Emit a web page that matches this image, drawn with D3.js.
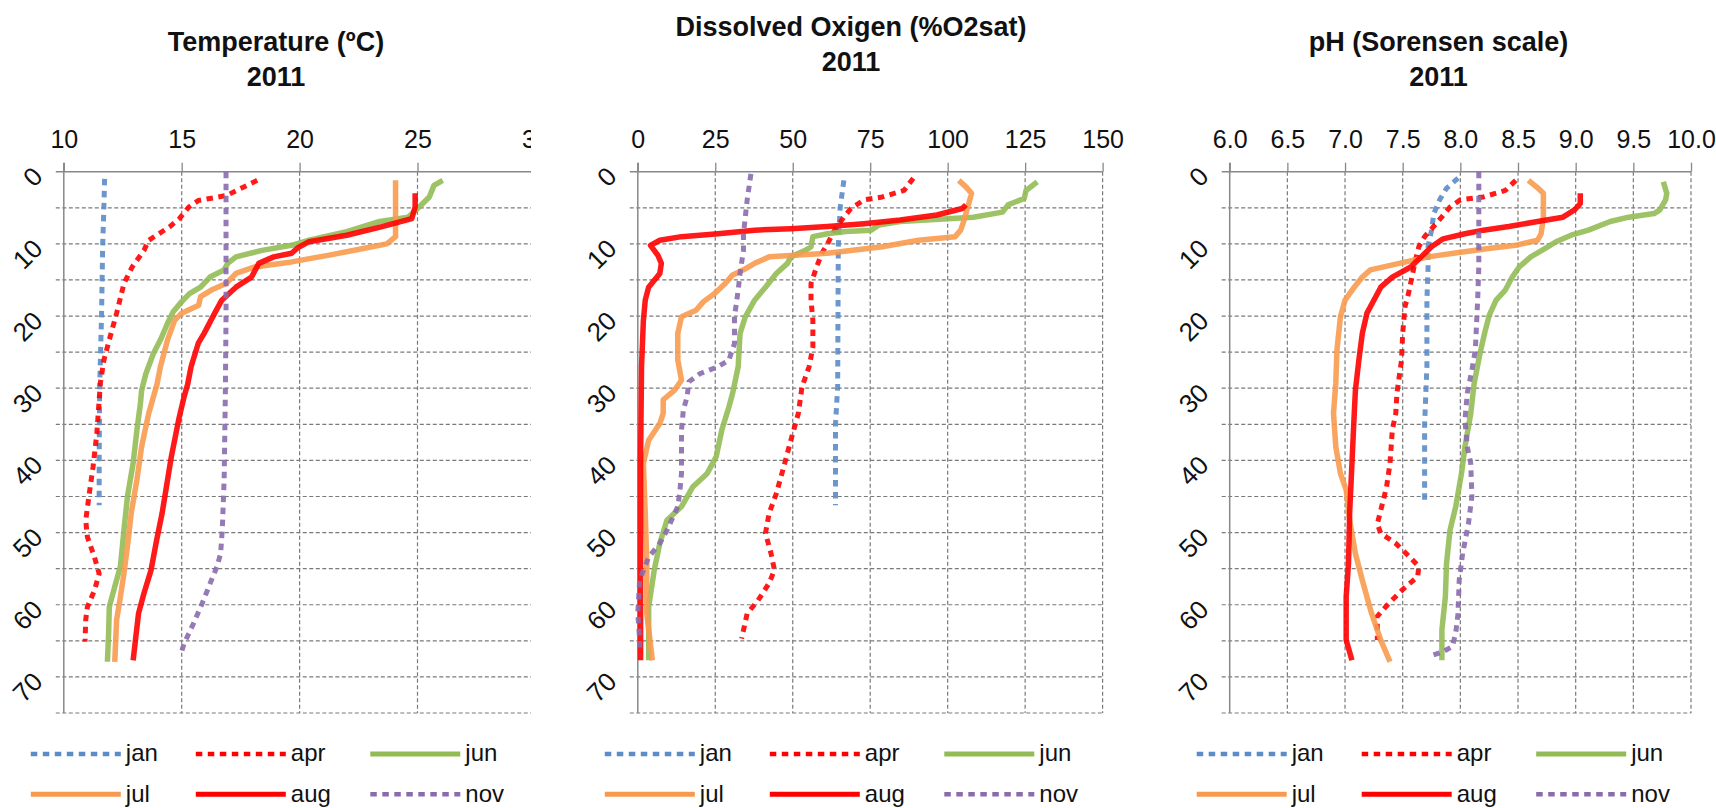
<!DOCTYPE html>
<html>
<head>
<meta charset="utf-8">
<script src="https://cdn.jsdelivr.net/npm/d3@7/dist/d3.min.js"></script>
<style>
  body { margin: 0; background: #fff; }
  svg text { font-family: "Liberation Sans", Arial, sans-serif; fill: #111; }
</style>
</head>
<body>
<svg id="chart" width="1716" height="808"></svg>
<script>
// series names, in drawing / legend order
const months = ["jan", "apr", "jun", "jul", "aug", "nov"];

// depth axis (m)
const depthTicks = [0, 10, 20, 30, 40, 50, 60, 70];
const depthGrid = [0, 5, 10, 15, 20, 25, 30, 35, 40, 45, 50, 55, 60, 65, 70, 75];

// top axis tick labels for each panel
const tempTicks = [10, 15, 20, 25, 30];
const oxyTicks = [0, 25, 50, 75, 100, 125, 150];
const phTicks = [6.0, 6.5, 7.0, 7.5, 8.0, 8.5, 9.0, 9.5, 10.0];

// Temperature (ºC) profiles: [value, depth]
const tempJan = [[11.73,1],[11.7,5],[11.65,10],[11.6,20],[11.52,30],[11.5,40],[11.5,46.2]];
const tempApr = [[18.2,1.2],[16.9,3.3],[15.7,4],[15.3,4.9],[14.9,6.5],[14.5,7.6],[13.6,9.5],[13.4,10.9],[12.9,13.2],[12.55,15.5],[12.24,19.6],[11.93,23.3],[11.7,26.1],[11.55,29.3],[11.4,36.3],[11.24,40.9],[11.08,44.6],[10.93,48.3],[11.0,50.6],[11.3,53.4],[11.5,55.7],[11.3,58],[11.0,60.3],[10.93,62.1],[10.9,65.1]];
const tempJun = [[26.07,1.2],[25.7,1.9],[25.5,3.5],[25.07,4.9],[24.6,6.3],[23.4,6.9],[22.0,8.3],[20.4,9.5],[19.66,10.2],[18.4,10.9],[17.3,11.8],[16.95,12.7],[16.8,13.6],[16.2,14.6],[15.8,16],[15.33,16.9],[15.0,18],[14.64,19.4],[14.4,21],[14.1,23.3],[13.8,25.2],[13.48,28],[13.3,30.3],[13.25,32.1],[13.1,35.8],[12.94,40.4],[12.7,45],[12.55,49.7],[12.4,54.7],[12.16,57.5],[11.93,60.3],[11.9,64],[11.85,67.9]];
const tempJul = [[24.07,1.2],[24.07,9],[23.7,10],[22.75,10.6],[21.2,11.6],[19.66,12.5],[18.1,13.2],[17.3,14.1],[16.88,15.5],[16.26,16.4],[15.8,17.3],[15.72,18.5],[15.0,19.6],[14.7,20.6],[14.4,23.3],[14.1,27],[13.95,29.5],[13.8,31.2],[13.6,33.5],[13.3,38.1],[13.1,42.7],[12.86,47.3],[12.7,51.9],[12.55,55.7],[12.4,58.9],[12.24,62.1],[12.16,67.9]];
const tempAug = [[24.9,3],[24.9,4.9],[24.76,6.5],[23.5,7.6],[22.0,8.8],[20.4,9.7],[19.9,10.6],[19.66,11.3],[18.9,11.8],[18.27,12.7],[17.96,14.6],[17.3,16],[16.7,17.8],[16.4,19.6],[15.95,22.4],[15.7,23.8],[15.4,27],[15.25,29.5],[15.1,31.2],[14.87,34.4],[14.56,39.5],[14.17,47.3],[13.94,51],[13.7,55.2],[13.4,58.4],[13.17,61.2],[12.94,67.7]];
const tempNov = [[16.88,0],[16.88,10],[16.88,20],[16.85,31],[16.8,42.7],[16.72,49.7],[16.65,52.9],[16.5,54.7],[16.26,56.6],[15.87,59.8],[15.5,62.6],[15.1,65.4],[14.95,67]];

// Dissolved oxygen (%O2sat) profiles
const oxyJan = [[66.5,1.2],[65.3,5],[64.7,10.4],[64.5,29.8],[63.8,35],[63.8,46.2]];
const oxyApr = [[88.9,0.9],[85.9,2.6],[78.9,3.5],[73,3.9],[68.8,5.1],[66.5,6.3],[63.5,8.1],[61.2,10],[59.4,11.3],[57.7,13.2],[55.9,15.5],[55.9,17.8],[56.5,20.6],[56.5,24.3],[55.3,27],[53,29.8],[51.8,33.5],[49.4,37.2],[47.1,40.9],[44.7,44.6],[42.4,47.3],[41.2,50.1],[43,52.9],[44.1,55.2],[42.4,57],[38.8,59.4],[35.3,61.2],[33.5,64.7]];
const oxyJun = [[128.9,1.4],[125.3,2.6],[124.7,3.7],[119.5,4.6],[117.7,5.6],[108.3,6.3],[84.7,6.9],[77.7,7.4],[75.3,8.1],[67.1,8.3],[61.2,8.6],[56.5,9],[55.9,10.4],[54.1,10.9],[49.4,11.8],[48.3,12.7],[44.7,14.1],[41.2,16],[37.7,17.8],[34.7,20.1],[33,22.4],[32.4,27],[30.6,30.7],[29.4,32.6],[27.1,35.8],[25.3,39.5],[22.4,41.8],[17.7,43.7],[14.1,46.4],[9.4,48.3],[7.1,51.5],[5.3,55.2],[3.5,60.3],[3.5,67.7]];
const oxyJul = [[103.6,1.2],[105.9,2.1],[107.7,3],[106.5,4.9],[105.3,6.7],[104.2,8.1],[102.4,9],[90.6,9.5],[78.9,10.4],[61.2,11.3],[49.4,11.6],[42.4,11.8],[37.7,12.7],[34.1,13.6],[30.6,14.3],[28.2,15.5],[24.7,16.9],[21.2,18],[18.8,19.2],[14.1,20.1],[12.9,22.4],[12.9,26.1],[14.1,28.9],[11.8,30.3],[8.2,31.6],[8.2,33.5],[7.1,34.9],[3.5,37.2],[1.8,40.4],[2.4,47.3],[2.9,54.2],[2.9,61.2],[4.7,67.7]];
const oxyAug = [[105.9,4.6],[104.7,5.1],[96.5,6],[84.7,6.7],[73,7.2],[61.2,7.6],[49.4,7.9],[37.7,8.1],[25.9,8.6],[14.1,9],[7.1,9.5],[4.1,10.2],[6.5,11.6],[7.6,12.7],[7.1,14.1],[3.5,16],[2.4,17.8],[1.8,20.6],[1.2,27],[0.9,40],[0.9,67.7]];
const oxyNov = [[36.5,0.3],[35.3,3.9],[34.1,8.6],[34.1,10.9],[33,14.1],[32.4,16.4],[31.2,20.1],[31.2,23.8],[29.4,26.1],[25.9,27],[20,28],[16.5,29.1],[15.9,31.2],[14.7,33],[14.1,35.8],[14.1,41.8],[13.5,44.6],[12.9,46.4],[9.4,49.7],[7.1,51.5],[3.5,53.4],[0.6,56.6],[0,61.2],[0.6,64.9],[0.6,66.3]];

// pH profiles
const phJan = [[7.98,0.9],[7.88,2.3],[7.82,3.9],[7.77,5.8],[7.75,8.1],[7.72,10.4],[7.72,13.2],[7.71,17.8],[7.71,27],[7.69,35],[7.69,46.2]];
const phApr = [[8.48,1.2],[8.39,2.6],[8.2,3.5],[8.0,3.9],[7.91,4.9],[7.79,7.2],[7.69,9],[7.64,10.4],[7.61,12.3],[7.58,14.6],[7.55,16.9],[7.52,18.7],[7.5,22.4],[7.49,26.1],[7.45,30.7],[7.44,33.5],[7.41,35.8],[7.39,40.4],[7.36,43.7],[7.31,46.9],[7.28,48.8],[7.31,50.1],[7.44,51.5],[7.53,52.9],[7.64,54.7],[7.63,56.1],[7.5,57.9],[7.38,59.8],[7.28,61.6],[7.28,64.9]];
const phJun = [[9.76,1.4],[9.79,3],[9.78,3.9],[9.73,5.3],[9.68,5.8],[9.46,6.3],[9.3,6.9],[9.11,8.1],[8.96,8.8],[8.83,9.7],[8.74,10.6],[8.61,11.8],[8.51,13.2],[8.45,14.6],[8.39,16.4],[8.31,17.8],[8.25,19.9],[8.21,22.4],[8.17,25.2],[8.12,29.3],[8.09,33.5],[8.04,38.1],[8.01,41.8],[7.96,46.4],[7.91,49.7],[7.88,54.3],[7.87,58.9],[7.84,63.5],[7.84,67.7]];
const phJul = [[8.59,1.2],[8.66,2.1],[8.72,3],[8.72,6.3],[8.7,8.6],[8.67,9.5],[8.48,10.2],[8.26,10.6],[7.94,11.3],[7.72,11.8],[7.47,12.7],[7.22,13.6],[7.15,14.6],[7.08,16],[7.0,17.8],[6.96,20.1],[6.93,24.7],[6.92,29.3],[6.9,33.5],[6.92,38.1],[6.96,41.8],[7.01,44.1],[7.04,48.3],[7.09,52.9],[7.15,56.6],[7.23,61.2],[7.31,64.9],[7.39,67.9]];
const phAug = [[9.04,3],[9.04,4.4],[8.99,5.3],[8.89,6.3],[8.67,6.9],[8.42,7.6],[8.2,8.1],[8.04,8.6],[7.85,9.3],[7.75,10.4],[7.66,11.8],[7.57,13.2],[7.41,14.6],[7.31,16],[7.25,17.8],[7.19,19.6],[7.15,22.4],[7.12,26.1],[7.09,30.3],[7.08,33.5],[7.06,40.4],[7.04,47.3],[7.03,54.3],[7.01,58.9],[7.01,64.9],[7.06,67.7]];
const phNov = [[8.16,0],[8.16,13.2],[8.15,17.8],[8.13,24.7],[8.1,27.5],[8.06,30.7],[8.04,34.4],[8.06,38.1],[8.09,40.4],[8.1,45],[8.07,48.8],[8.02,52.9],[7.99,56.6],[7.98,61.2],[7.96,63.9],[7.93,65.8],[7.85,66.5],[7.76,67]];

// line styles per month
const lineColor = {jan: "#5b8cc8", apr: "#ff0000", jun: "#93bb55", jul: "#f89a4e", aug: "#ff0000", nov: "#8a6cae"};
const lineDash = {jan: "6.5,5.5", apr: "6.5,5.5", jun: null, jul: null, aug: null, nov: "6.5,5.5"};

const svg = d3.select("#chart");

const panels = [
    {title: "Temperature (ºC)", titleY: 41.7, cx: 276, x0: 63.8, x1: 535.4, clipRight: 531,
     domain: [10, 30], ticks: tempTicks, fmt: d3.format("d"),
     series: [tempJan, tempApr, tempJun, tempJul, tempAug, tempNov]},
    {title: "Dissolved Oxigen (%O2sat)", titleY: 26.7, cx: 851, x0: 637.8, x1: 1102.6, clipRight: null,
     domain: [0, 150], ticks: oxyTicks, fmt: d3.format("d"),
     series: [oxyJan, oxyApr, oxyJun, oxyJul, oxyAug, oxyNov]},
    {title: "pH (Sorensen scale)", titleY: 41.7, cx: 1438.5, x0: 1229.7, x1: 1691, clipRight: null,
     domain: [6, 10], ticks: phTicks, fmt: d3.format(".1f"),
     series: [phJan, phApr, phJun, phJul, phAug, phNov]}
];

const y = d3.scaleLinear().domain([0, 75]).range([171.7, 713]);

panels.forEach(function (p, pi) {
    let g = svg.append("g");
    if (p.clipRight) {
        svg.append("clipPath").attr("id", "clip" + pi)
            .append("rect").attr("x", 0).attr("y", 0).attr("width", p.clipRight).attr("height", 808);
        g.attr("clip-path", "url(#clip" + pi + ")");
    }

    let x = d3.scaleLinear().domain(p.domain).range([p.x0, p.x1]);
    let xRight = x(p.domain[1]);

    // title
    let t = svg.append("text")
        .attr("x", p.cx)
        .attr("y", p.titleY)
        .attr("text-anchor", "middle")
        .style("font-weight", "bold")
        .style("font-size", "27px");
    t.append("tspan").attr("x", p.cx).attr("dy", "0.35em").text(p.title);
    t.append("tspan").attr("x", p.cx).attr("dy", "1.3em").text("2011");

    // horizontal grid (dashed) + left ticks
    g.selectAll(".hgrid")
        .data(depthGrid.filter(d => d > 0))
        .enter().append("line")
        .attr("x1", p.x0 - 8).attr("x2", xRight)
        .attr("y1", d => y(d)).attr("y2", d => y(d))
        .style("stroke", "#7a7a7a").style("stroke-width", 1.2)
        .style("stroke-dasharray", "4,2.5");

    // vertical grid (dashed)
    g.selectAll(".vgrid")
        .data(p.ticks.slice(1))
        .enter().append("line")
        .attr("x1", d => x(d)).attr("x2", d => x(d))
        .attr("y1", y(0)).attr("y2", y(75))
        .style("stroke", "#7a7a7a").style("stroke-width", 1.2)
        .style("stroke-dasharray", "4,2.5");

    // top axis ticks and labels
    let top = g.append("g").attr("transform", "translate(0," + y(0) + ")")
        .call(d3.axisTop(x).tickValues(p.ticks).tickSize(9).tickSizeOuter(0).tickFormat(p.fmt));
    top.select(".domain").remove();
    top.selectAll(".tick line").style("stroke", "#888").style("stroke-width", 1.3);
    top.selectAll(".tick text")
        .attr("y", -32).attr("dy", "0.35em")
        .style("font-size", "25px")
        .style("font-family", '"Liberation Sans", Arial, sans-serif')
        .style("fill", "#111");

    // solid axis lines
    g.append("line")
        .attr("x1", p.x0 - 8).attr("x2", xRight)
        .attr("y1", y(0)).attr("y2", y(0))
        .style("stroke", "#888").style("stroke-width", 1.5);
    g.append("line")
        .attr("x1", p.x0).attr("x2", p.x0)
        .attr("y1", y(0) - 9).attr("y2", y(75))
        .style("stroke", "#888").style("stroke-width", 1.5);

    // depth labels, rotated
    g.selectAll(".ylab")
        .data(depthTicks)
        .enter().append("text")
        .attr("transform", d => "translate(" + (p.x0 - 26) + "," + y(d) + ") rotate(-45)")
        .attr("text-anchor", "end")
        .attr("dy", "0.35em")
        .style("font-size", "26px")
        .text(d => d);

    // profile lines
    let line = d3.line()
        .x(d => x(d[0]))
        .y(d => y(d[1]));

    p.series.forEach(function (data, i) {
        let m = months[i];
        g.append("path")
            .datum(data)
            .attr("d", line)
            .style("fill", "none")
            .style("stroke", lineColor[m])
            .style("stroke-width", lineDash[m] ? 5 : 5.5)
            .style("stroke-dasharray", lineDash[m])
            .style("stroke-linejoin", "round")
            .style("opacity", 0.9);
    });

    // legend: 2 rows x 3 columns
    let colOffsets = [-33, 132, 306.5];
    let rowY = [754, 794.3];
    months.forEach(function (m, i) {
        let lx = p.x0 + colOffsets[i % 3];
        let ly = rowY[Math.floor(i / 3)];
        svg.append("line")
            .attr("x1", lx).attr("x2", lx + 90)
            .attr("y1", ly).attr("y2", ly)
            .style("stroke", lineColor[m])
            .style("stroke-width", lineDash[m] ? 4.5 : 5)
            .style("stroke-dasharray", lineDash[m]);
        svg.append("text")
            .attr("x", lx + 95).attr("y", ly)
            .attr("dy", "0.3em")
            .style("font-size", "24px")
            .text(m);
    });
});
</script>
</body>
</html>
